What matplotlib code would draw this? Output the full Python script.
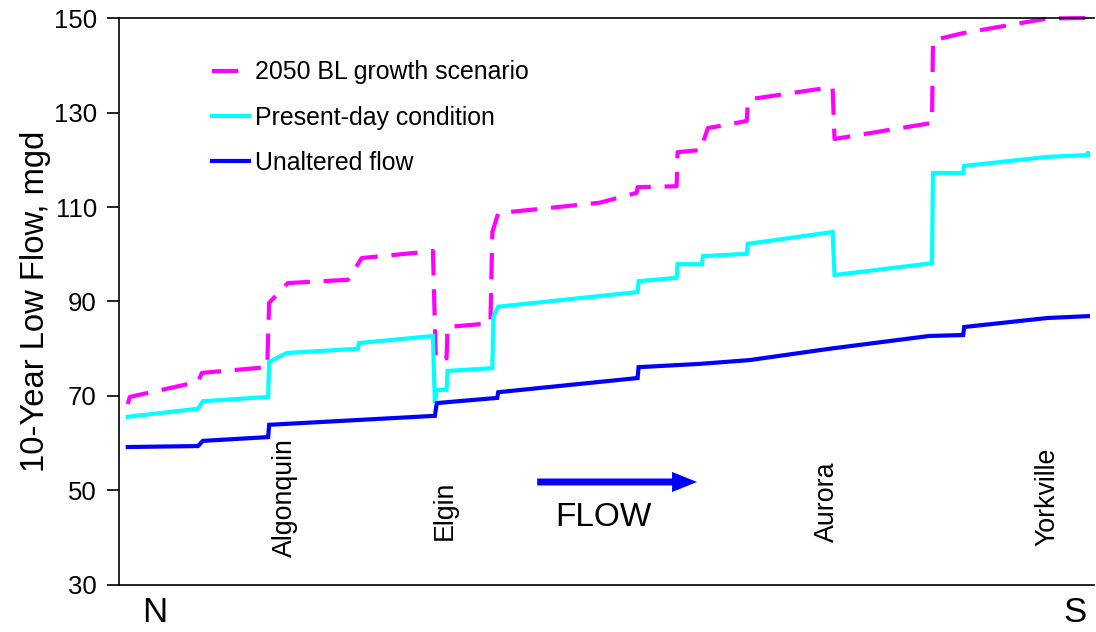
import matplotlib
matplotlib.use("Agg")
import matplotlib.pyplot as plt

plt.rcParams['font.family'] = ['Liberation Sans', 'DejaVu Sans']

# Distance downstream (arbitrary units, N -> S) and flows (mgd)
unaltered_x = [0.9, 8.1, 8.6, 15.3, 15.4, 32.4, 32.6, 38.8, 38.9, 53.2, 53.3,
               59.6, 64.7, 72.9, 83.1, 86.6, 86.7, 95.2, 99.4]
unaltered_y = [59.2, 59.4, 60.5, 61.3, 63.9, 65.8, 68.5, 69.6, 70.8, 73.8, 76.1,
               76.8, 77.6, 80.0, 82.7, 82.9, 84.6, 86.5, 86.9]

present_x = [0.9, 8.1, 8.6, 15.3, 15.4, 17.2, 24.5, 24.6, 32.2, 32.4, 32.6,
             33.6, 33.7, 38.3, 38.4, 38.9, 53.2, 53.3, 57.2, 57.3, 59.8, 59.9,
             64.4, 64.5, 73.2, 73.4, 83.4, 83.5, 86.6, 86.7, 95.2, 99.4, 99.4]
present_y = [65.6, 67.3, 68.9, 69.8, 77.2, 79.1, 80.0, 81.2, 82.7, 68.6, 71.3,
             71.3, 75.3, 75.9, 86.8, 88.9, 92.0, 94.3, 95.0, 97.9, 97.9, 99.6,
             100.1, 102.2, 104.7, 95.6, 98.1, 117.2, 117.2, 118.7, 120.6, 121.0, 121.4]

scenario_x = [0.9, 1.1, 8.1, 8.5, 15.2, 15.4, 17.3, 23.5, 24.5, 24.9, 30.4,
              32.2, 32.5, 33.6, 33.7, 38.1, 38.3, 38.9, 49.3, 53.1, 53.2, 57.2,
              57.3, 59.8, 60.0, 60.4, 64.4, 64.5, 65.0, 73.2, 73.4, 83.4, 83.5,
              86.6, 95.2, 99.4]
scenario_y = [68.3, 69.8, 73.0, 74.9, 76.1, 89.7, 93.9, 94.6, 97.9, 99.2, 100.3,
              100.7, 77.6, 78.0, 84.6, 85.4, 104.7, 108.7, 110.9, 113.0, 114.2, 114.4,
              121.6, 122.1, 124.2, 126.7, 128.2, 132.2, 132.9, 135.4, 124.4, 127.8, 145.3,
              146.8, 149.9, 150.0]

towns = ['Algonquin', 'Elgin', 'Aurora', 'Yorkville']
town_x = [17.0, 33.4, 72.6, 95.2]
town_y = [48.4, 45.7, 47.6, 48.6]

yticks = [30, 50, 70, 90, 110, 130, 150]

MAGENTA = '#FF00FF'
CYAN = '#00FFFF'
BLUE = '#0000FF'

fig = plt.figure(figsize=(10.96, 6.32), dpi=100)
ax = fig.add_axes([0.1086, 0.0744, 0.8894, 0.8971])

lw = 3.0
ax.plot(scenario_x, scenario_y, color=MAGENTA, lw=lw, linestyle=(0, (6.3, 3.3)),
        label='2050 BL growth scenario', clip_on=False, solid_joinstyle='miter')
ax.plot(present_x, present_y, color=CYAN, lw=lw, label='Present-day condition',
        solid_joinstyle='miter')
ax.plot(unaltered_x, unaltered_y, color=BLUE, lw=lw, label='Unaltered flow',
        solid_joinstyle='miter')

ax.set_xlim(0, 100)
ax.set_ylim(30, 150)
ax.set_yticks(yticks)
ax.set_xticks([])
ax.tick_params(axis='y', direction='out', length=9, width=1.2, pad=7,
               labelsize=18.5, colors='black')
ax.spines['right'].set_visible(False)
for s in ['left', 'bottom', 'top']:
    ax.spines[s].set_linewidth(1.2)
ax.set_ylabel('10-Year Low Flow, mgd', fontsize=23.6)
ax.yaxis.set_label_coords(-0.070, 0.5)

for name, x, y in zip(towns, town_x, town_y):
    ax.text(x, y, name, rotation=90, ha='center', va='center', fontsize=19.3)

ax.annotate('', xy=(59.3, 51.8), xytext=(42.9, 51.8),
            arrowprops=dict(arrowstyle='simple,head_length=1.8,head_width=1.45,tail_width=0.5',
                            color=BLUE, lw=0, shrinkA=0, shrinkB=0,
                            mutation_scale=10))
ax.text(49.7, 44.2, 'FLOW', ha='center', va='center', fontsize=24)

fig.text(155 / 1096, 1 - 612 / 632, 'N', ha='center', va='center', fontsize=25)
fig.text(1075 / 1096, 1 - 612 / 632, 'S', ha='center', va='center', fontsize=25)

leg = ax.legend(loc='upper left', bbox_to_anchor=(0.085, 0.943), frameon=False,
                fontsize=17.9, handlelength=1.5, handletextpad=0.25,
                labelspacing=0.86, borderaxespad=0)

fig.savefig('out.png', dpi=100)
